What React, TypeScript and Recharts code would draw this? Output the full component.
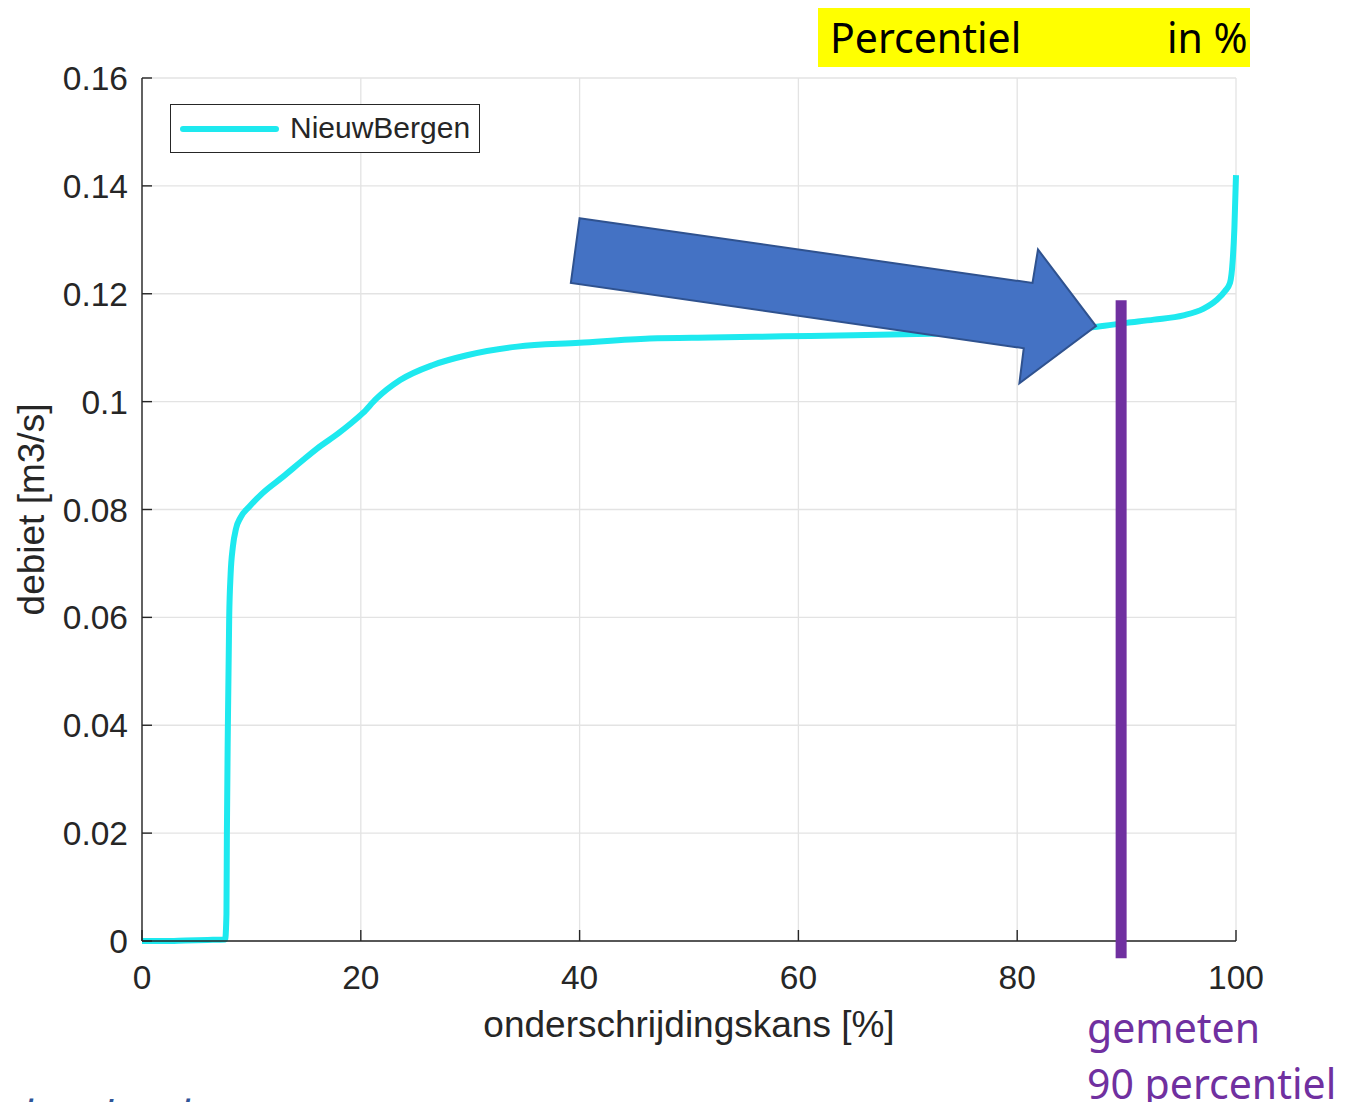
import React from 'react';
import {
  LineChart,
  Line,
  XAxis,
  YAxis,
  CartesianGrid,
  ReferenceLine,
  ReferenceArea,
} from 'recharts';

// exceedance probability [%]
const percent = [
  0, 2, 4, 6, 7.6, 7.72, 7.76, 7.85, 7.97, 8.1, 8.3, 8.6, 9.0, 9.8, 11, 12.9, 14.5,
  16, 18, 19, 20.2, 21.4, 23.6, 26.6, 29.7, 34.3, 40, 46.4, 52, 58.6, 65, 72, 80,
  85, 87.3, 90, 92.5, 95.2, 97, 98.2, 99, 99.45, 99.7, 99.85, 100,
];
// debiet [m3/s]
const debiet = [
  0, 0, 0.0001, 0.0002, 0.0003, 0.005, 0.02, 0.04, 0.06, 0.068, 0.073, 0.0765,
  0.0785, 0.0805, 0.083, 0.0861, 0.0888, 0.0913, 0.0942, 0.0958, 0.0979, 0.1005,
  0.104, 0.1068, 0.1086, 0.1102, 0.1109, 0.1117, 0.1119, 0.1121, 0.1123, 0.1126,
  0.113, 0.1135, 0.1139, 0.1146, 0.1152, 0.116, 0.1172, 0.1188, 0.1205, 0.122,
  0.1262, 0.132, 0.142,
];
const xTicks = [0, 20, 40, 60, 80, 100];
const yTicks = [0, 0.02, 0.04, 0.06, 0.08, 0.1, 0.12, 0.14, 0.16];
const seriesName = 'NieuwBergen';

// measured 90th percentile marker (x, y from, y to)
const p90X = 89.5;
const p90Top = 0.1188;
const p90Bottom = -0.0032;

// block arrow outline in data coordinates [percent, debiet]
const arrowPts: [number, number][] = [
  [40.0, 0.134],
  [81.4, 0.122],
  [81.9, 0.1282],
  [87.2, 0.114],
  [80.2, 0.1034],
  [80.6, 0.1099],
  [39.2, 0.122],
];

const data = percent.map((p, i) => ({ p, v: debiet[i] }));

const AX = '#262626';
const FONT = '"Liberation Sans", Arial, Helvetica, sans-serif';
const CYAN = '#1ee9ef';
const TICK_FS = 33.5;
const LABEL_FS = 37;

const YTM = 14;
const XTM = 8;

const YTick = (props: any) => {
  const { x, y, payload } = props;
  return (
    <g>
      <line x1={x + YTM} x2={x + YTM + 10} y1={y} y2={y} stroke={AX} strokeWidth={1.4} />
      <text x={x} y={y + 12} textAnchor="end" fontFamily={FONT} fontSize={TICK_FS} fill={AX}>
        {String(payload.value)}
      </text>
    </g>
  );
};

const XTick = (props: any) => {
  const { x, y, payload } = props;
  return (
    <g>
      <line x1={x} x2={x} y1={y - XTM} y2={y - XTM - 11} stroke={AX} strokeWidth={1.4} />
      <text x={x} y={y + 40} textAnchor="middle" fontFamily={FONT} fontSize={TICK_FS} fill={AX}>
        {String(payload.value)}
      </text>
    </g>
  );
};

const minX = Math.min(...arrowPts.map((a) => a[0]));
const maxX = Math.max(...arrowPts.map((a) => a[0]));
const minY = Math.min(...arrowPts.map((a) => a[1]));
const maxY = Math.max(...arrowPts.map((a) => a[1]));

const ArrowShape = (props: any) => {
  const { x, y, width, height } = props;
  const pts = arrowPts
    .map(([px, py]) => {
      const sx = x + ((px - minX) / (maxX - minX)) * width;
      const sy = y + ((maxY - py) / (maxY - minY)) * height;
      return `${sx},${sy}`;
    })
    .join(' ');
  return <polygon points={pts} fill="#4472C4" stroke="#2F528F" strokeWidth={2} />;
};

export default function App() {
  return (
    <div style={{ position: 'relative', width: 1333, height: 1094, background: '#fff' }}>
      <LineChart
        width={1333}
        height={1094}
        data={data}
        margin={{ top: 70, right: 105, left: 54, bottom: 101 }}
      >
        <CartesianGrid stroke="#e3e3e3" strokeWidth={1.3} />
        <XAxis
          dataKey="p"
          type="number"
          domain={[0, 100]}
          ticks={xTicks}
          height={60}
          tickSize={0}
          tickMargin={XTM}
          tick={<XTick />}
          stroke={AX}
          strokeWidth={1.4}
          label={{
            content: (lp: any) => {
              const vb = lp.viewBox || {};
              return (
                <text
                  x={vb.x + vb.width / 2}
                  y={vb.y + 96}
                  textAnchor="middle"
                  fontFamily={FONT}
                  fontSize={LABEL_FS}
                  fill={AX}
                >
                  onderschrijdingskans [%]
                </text>
              );
            },
          }}
        />
        <YAxis
          type="number"
          domain={[0, 0.16]}
          ticks={yTicks}
          width={80}
          tickSize={0}
          tickMargin={YTM}
          tick={<YTick />}
          stroke={AX}
          strokeWidth={1.4}
          label={{
            content: (lp: any) => {
              const vb = lp.viewBox || {};
              const cy = vb.y + vb.height / 2;
              return (
                <text
                  x={36}
                  y={cy}
                  transform={`rotate(-90 36 ${cy})`}
                  textAnchor="middle"
                  fontFamily={FONT}
                  fontSize={LABEL_FS}
                  fill={AX}
                >
                  debiet [m3/s]
                </text>
              );
            },
          }}
        />
        <Line
          dataKey="v"
          name={seriesName}
          type="monotone"
          stroke={CYAN}
          strokeWidth={6}
          dot={false}
          activeDot={false}
          isAnimationActive={false}
        />
        <ReferenceArea
          x1={minX}
          x2={maxX}
          y1={minY}
          y2={maxY}
          ifOverflow="visible"
          shape={<ArrowShape />}
          zIndex={450}
        />
        <ReferenceLine
          segment={[
            { x: p90X, y: p90Top },
            { x: p90X, y: p90Bottom },
          ]}
          ifOverflow="visible"
          stroke="#7030A0"
          strokeWidth={11}
          zIndex={600}
        />
      </LineChart>

      {/* legend */}
      <div
        style={{
          position: 'absolute',
          left: 162,
          top: 96,
          width: 310,
          height: 49,
          border: '1.5px solid #262626',
          background: '#fff',
          boxSizing: 'border-box',
        }}
      >
        <div
          style={{
            position: 'absolute',
            left: 9,
            top: 21,
            width: 99,
            height: 6,
            background: CYAN,
            borderRadius: 3,
          }}
        />
        <div
          style={{
            position: 'absolute',
            left: 119,
            top: 6,
            fontFamily: FONT,
            fontSize: 30,
            lineHeight: '34px',
            color: AX,
            whiteSpace: 'nowrap',
          }}
        >
          {seriesName}
        </div>
      </div>

      {/* slide annotations */}
      <svg
        width={1349}
        height={1110}
        style={{ position: 'absolute', left: -8, top: -8, pointerEvents: 'none' }}
      >
        <rect x={818} y={8} width={432} height={59} fill="#FFFF00" />
        <text x={830} y={53} fontFamily='"Noto Sans", sans-serif' fontSize={41} fill="#000">
          Percentiel
        </text>
        <text x={1167} y={53} fontFamily='"Noto Sans", sans-serif' fontSize={41} fill="#000">
          in %
        </text>
        <text x={1087} y={1043} fontFamily='"Noto Sans", sans-serif' fontSize={41} fill="#7030A0">
          gemeten
        </text>
        <text x={1087} y={1099} fontFamily='"Noto Sans", sans-serif' fontSize={41} fill="#7030A0">
          90 percentiel
        </text>
        <text
          x={22}
          y={1131}
          fontFamily='"Noto Sans", sans-serif'
          fontStyle="italic"
          fontSize={41}
          fill="#2F5597"
        >
          berekend
        </text>
      </svg>
    </div>
  );
}
